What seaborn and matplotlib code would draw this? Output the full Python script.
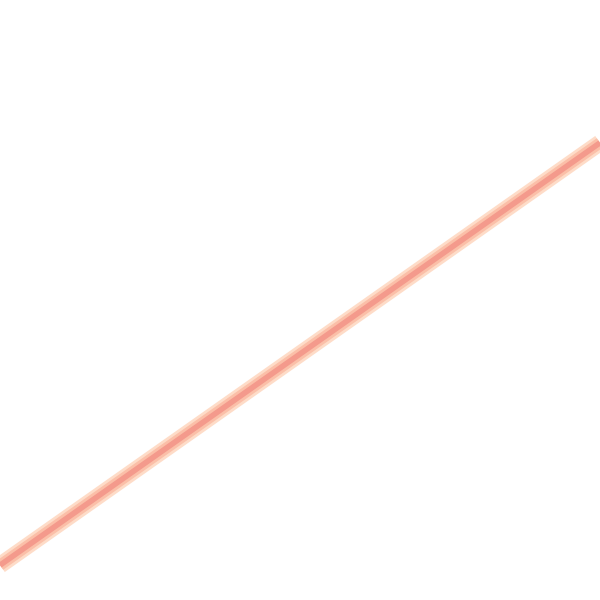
import matplotlib
matplotlib.use("Agg")
import matplotlib.pyplot as plt
import seaborn as sns
import pandas as pd

x_values = [0.0, 1.0]
y_values = [0.058, 0.762]

df = pd.DataFrame({"x": x_values, "y": y_values})

sns.set_theme(style="white")
fig = plt.figure(figsize=(6, 6), dpi=100)
ax = fig.add_axes([0, 0, 1, 1])
sns.lineplot(data=df, x="x", y="y", ax=ax, color="#fedcc8", linewidth=12,
             solid_capstyle="butt")
sns.lineplot(data=df, x="x", y="y", ax=ax, color="#fbbfa8", linewidth=8,
             solid_capstyle="butt")
sns.lineplot(data=df, x="x", y="y", ax=ax, color="#f49a8c", linewidth=4,
             solid_capstyle="butt")
ax.set_xlim(0, 1)
ax.set_ylim(0, 1)
ax.set_axis_off()
fig.savefig("out.png", dpi=100)
